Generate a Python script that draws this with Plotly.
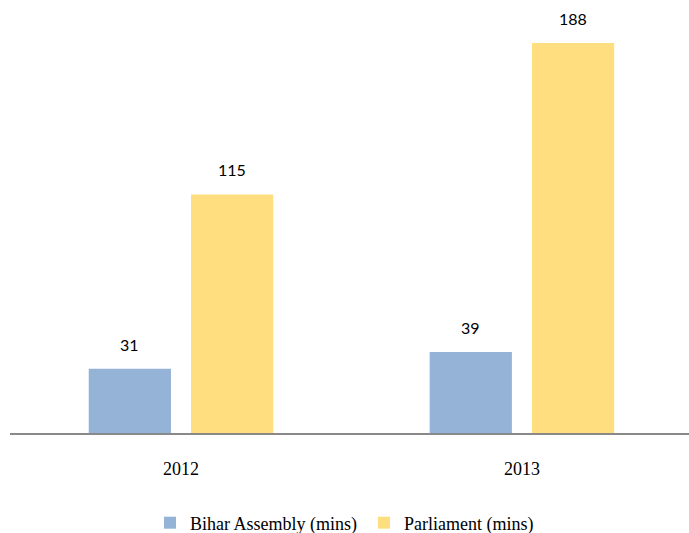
import plotly.graph_objects as go

years = ["2012", "2013"]
bihar = [31, 39]
parliament = [115, 188]
series_names = ["Bihar Assembly (mins)", "Parliament (mins)"]
colors = ["#95B3D7", "#FFDE7F"]

fig = go.Figure()
for name, vals, col in zip(series_names, [bihar, parliament], colors):
    fig.add_trace(go.Bar(x=years, y=vals, name=name, marker=dict(color=col, line=dict(width=0)),
                         hoverinfo="skip"))

for vals, shift in [(bihar, -51), (parliament, 51)]:
    for i, v in enumerate(vals):
        fig.add_annotation(x=i, y=v, xref="x", yref="y", text=str(v), showarrow=False,
                           xshift=shift, yshift=13, yanchor="bottom",
                           font=dict(family="Lato", size=16, color="#000000"))

fig.update_layout(
    width=689, height=533,
    margin=dict(l=10, r=0, t=18, b=100),
    paper_bgcolor="white", plot_bgcolor="white",
    barmode="group", bargap=0.40, bargroupgap=0.196,
    xaxis=dict(type="category", range=[-0.5015, 1.49], showline=True, linecolor="#898989", linewidth=2,
               ticks="", ticklabelstandoff=18, showgrid=False,
               tickfont=dict(family="Liberation Serif", size=18, color="#000000")),
    yaxis=dict(range=[0, 200], visible=False, showgrid=False, zeroline=False),
    legend=dict(orientation="h", xref="container", x=150 / 689, xanchor="left",
                yref="container", y=10 / 533, yanchor="middle",
                entrywidth=169, entrywidthmode="pixels",
                font=dict(family="Liberation Serif", size=18, color="#000000"),
                traceorder="normal"),
    showlegend=True,
)

fig.write_html("out.html", config={"displayModeBar": False},
               post_script="document.body.style.margin='0';")
